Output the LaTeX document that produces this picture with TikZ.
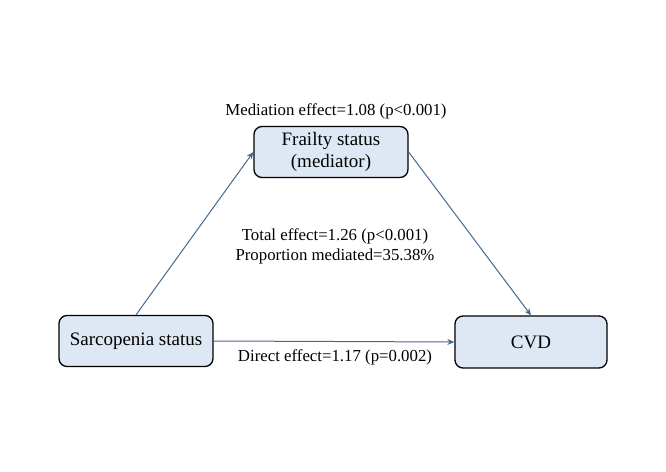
\documentclass[tikz,border=0pt]{standalone}
\usepackage{fontspec}
\setmainfont{Liberation Serif}
\usetikzlibrary{arrows.meta}
\definecolor{boxfill}{RGB}{222,232,245}
\definecolor{arrowcol}{RGB}{70,104,142}
\begin{document}
\begin{tikzpicture}[x=1pt,y=1pt,
  box/.style={draw=black,line width=1.3pt,fill=boxfill,rounded corners=8pt,minimum width=154pt,minimum height=51pt,align=center,font=\fontsize{19}{22}\selectfont,inner sep=0pt},
  conn/.style={draw=arrowcol,line width=1pt,-{Stealth[length=7pt,width=6pt]}},
  lbl/.style={font=\fontsize{16.8}{20}\selectfont,align=center,inner sep=0pt}]
\useasboundingbox (0,0) rectangle (666,471);
\node[box] (fra) at (331,319) {Frailty status\\(mediator)};
\node[box] (sar) at (136,130) {Sarcopenia status};
\node[box,minimum width=152pt,minimum height=52pt] (cvd) at (531,129) {CVD};
\draw[conn] (sar.north) -- (fra.west);
\draw[conn] (fra.east) -- (cvd.north);
\draw[conn] (sar.east) -- (cvd.west);
\node[lbl] (med) at (336,360) {Mediation effect=1.08 (p<0.001)};
\node[lbl] (tot) at (335,225) {Total effect=1.26 (p<0.001)\\Proportion mediated=35.38\%};
\node[lbl] (dir) at (335,114) {Direct effect=1.17 (p=0.002)};
\end{tikzpicture}
\end{document}
